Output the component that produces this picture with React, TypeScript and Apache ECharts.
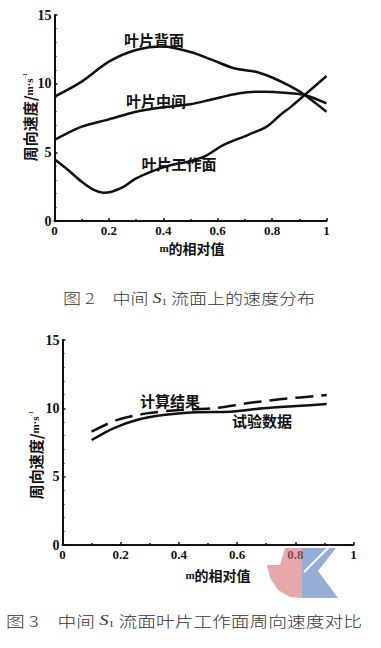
import React, { useEffect, useRef } from "react";
import * as echarts from "echarts";

// Figure 2 – velocity distribution on middle S1 stream surface
const backX = [0, 0.1, 0.2, 0.3, 0.4, 0.5, 0.58, 0.66, 0.74, 0.8, 0.87, 0.92, 1];
const backY = [9.05, 10.15, 11.6, 12.45, 12.7, 12.3, 11.73, 11.12, 10.87, 10.45, 9.78, 9.18, 7.96];
const midX = [0, 0.1, 0.2, 0.3, 0.4, 0.5, 0.57, 0.68, 0.77, 0.87, 0.92, 1];
const midY = [5.9, 6.87, 7.4, 7.96, 8.28, 8.5, 8.81, 9.3, 9.42, 9.3, 9.18, 8.57];
const workX = [0, 0.05, 0.1, 0.145, 0.18, 0.21, 0.255, 0.3, 0.37, 0.43, 0.49, 0.55, 0.62, 0.71, 0.78, 0.83, 0.87, 0.92, 1];
const workY = [4.49, 3.71, 2.86, 2.26, 2.06, 2.13, 2.5, 3.1, 3.71, 4.08, 4.32, 4.68, 5.53, 6.26, 6.87, 7.72, 8.33, 9.18, 10.56];

// Figure 3 – comparison on pressure side
const calcX = [0.1, 0.186, 0.289, 0.404, 0.518, 0.633, 0.747, 0.908];
const calcY = [8.29, 9.14, 9.63, 9.88, 10.0, 10.37, 10.66, 10.97];
const testX = [0.1, 0.175, 0.255, 0.346, 0.46, 0.576, 0.69, 0.805, 0.908];
const testY = [7.68, 8.54, 9.15, 9.51, 9.71, 9.75, 10.0, 10.17, 10.31];

const xTicks = [0, 0.2, 0.4, 0.6, 0.8, 1];
const yTicks = [0, 5, 10, 15];

const labels1 = ["叶片背面", "叶片中间", "叶片工作面"];
const labels2 = ["计算结果", "试验数据"];
const yTitle = "周向速度/";
const xTitle = "的相对值";
const caption1 = ["图 2　中间 ", "S", "1", " 流面上的速度分布"];
const caption2 = ["图 3　中间 ", "S", "1", " 流面叶片工作面周向速度对比"];

const zip = (xs: number[], ys: number[]) => xs.map((x, i) => [x, ys[i]]);

const tickFont = {
  fontFamily: "Liberation Serif",
  fontWeight: "bold" as const,
  fontSize: 13,
  color: "#111",
};
const cjk = "Noto Sans CJK SC";

function xAxisCfg(gridIndex: number) {
  return {
    type: "value" as const,
    gridIndex,
    min: 0,
    max: 1,
    interval: 0.2,
    axisLine: { show: true, onZero: false, lineStyle: { color: "#111", width: 2 } },
    axisTick: { show: true, inside: true, length: 3, lineStyle: { color: "#111", width: 1.5 } },
    minorTick: { show: true, splitNumber: 2, length: 2, lineStyle: { color: "#111", width: 1.5 } },
    splitLine: { show: false },
    axisLabel: {
      ...tickFont,
      margin: 3,
      formatter: (v: number) => {
        const t = xTicks.find((k) => Math.abs(k - v) < 1e-6);
        if (t === undefined) return "";
        return t === 0 ? "0" : t === 1 ? "1" : t.toFixed(1);
      },
    },
  };
}

function yAxisCfg(gridIndex: number) {
  return {
    type: "value" as const,
    gridIndex,
    min: 0,
    max: 15,
    interval: 5,
    axisLine: { show: true, onZero: false, lineStyle: { color: "#111", width: 2 } },
    axisTick: { show: true, inside: true, length: 3, lineStyle: { color: "#111", width: 1.5 } },
    minorTick: { show: true, splitNumber: 5, length: 2, lineStyle: { color: "#111", width: 1 } },
    splitLine: { show: false },
    axisLabel: {
      ...tickFont,
      fontSize: 14,
      margin: 3,
      formatter: (v: number) => (yTicks.includes(v) ? String(v) : ""),
    },
  };
}

function lineSeries(name: string, xi: number, data: number[][], dashed = false) {
  return {
    name,
    type: "line" as const,
    xAxisIndex: xi,
    yAxisIndex: xi,
    data,
    smooth: 0.3,
    showSymbol: false,
    symbol: "none",
    lineStyle: { color: "#111", width: 2.5, type: dashed ? [18, 8] : "solid" },
  };
}

const labelStyle = {
  fontFamily: cjk,
  fontWeight: "bold" as const,
  fontSize: 15,
  fill: "#111",
  align: "center" as const,
  verticalAlign: "middle" as const,
};

function yTitleText(x: number, y: number) {
  return {
    type: "text" as const,
    x,
    y,
    rotation: Math.PI / 2,
    style: {
      text: yTitle + "{m|m·s}{sup|-1}",
      fontFamily: cjk,
      fontWeight: "bold" as const,
      fontSize: 15,
      fill: "#111",
      align: "center" as const,
      verticalAlign: "middle" as const,
      rich: {
        m: { fontFamily: "Liberation Serif", fontSize: 11, fontWeight: "bold", fill: "#111" },
        sup: { fontFamily: "Liberation Serif", fontSize: 7, fill: "#111", padding: [0, 0, 9, 0] },
      },
    },
  };
}

function xTitleText(x: number, y: number) {
  return {
    type: "text" as const,
    x,
    y,
    style: {
      text: "{m|m}" + xTitle,
      fontFamily: cjk,
      fontWeight: "bold" as const,
      fontSize: 14,
      fill: "#111",
      align: "center" as const,
      verticalAlign: "middle" as const,
      rich: {
        m: { fontFamily: "Liberation Serif", fontSize: 11, fontWeight: "bold", fill: "#111" },
      },
    },
  };
}

function captionText(parts: string[], x: number, y: number, scaleX: number) {
  return {
    type: "text" as const,
    x,
    y,
    scaleX,
    style: {
      text: parts[0] + "{i|" + parts[1] + "}{sub|" + parts[2] + "}" + parts[3],
      fontFamily: cjk,
      fontWeight: 300,
      fontSize: 15,
      fill: "#333",
      align: "center" as const,
      verticalAlign: "middle" as const,
      rich: {
        i: { fontFamily: "Liberation Serif", fontStyle: "italic", fontSize: 15, fill: "#333" },
        sub: { fontFamily: "Liberation Serif", fontSize: 9, fill: "#333", padding: [8, 0, 0, 0] },
      },
    },
  };
}

export default function App() {
  const ref = useRef<HTMLDivElement>(null);
  useEffect(() => {
    if (!ref.current) return;
    const chart = echarts.init(ref.current, undefined, { renderer: "svg" });
    chart.setOption({
      animation: false,
      backgroundColor: "#fff",
      grid: [
        { left: 54.5, top: 15, width: 272, height: 206 },
        { left: 62.5, top: 340, width: 291, height: 205 },
      ],
      xAxis: [xAxisCfg(0), xAxisCfg(1)],
      yAxis: [yAxisCfg(0), yAxisCfg(1)],
      series: [
        lineSeries(labels1[0], 0, zip(backX, backY)),
        lineSeries(labels1[1], 0, zip(midX, midY)),
        lineSeries(labels1[2], 0, zip(workX, workY)),
        lineSeries(labels2[0], 1, zip(calcX, calcY), true),
        lineSeries(labels2[1], 1, zip(testX, testY)),
      ],
      graphic: [
        // watermark (faint logo)
        {
          type: "polygon",
          shape: { points: [[285, 548], [302, 548], [302, 598], [290, 597], [278, 590], [270, 578], [267, 565], [280, 565]] },
          style: { fill: "rgba(214,110,110,0.6)" },
          z: 100,
        },
        {
          type: "polygon",
          shape: { points: [[302, 548], [336, 548], [318, 571], [338, 598], [302, 598]] },
          style: { fill: "rgba(90,130,190,0.65)" },
          z: 100,
        },
        {
          type: "line",
          shape: { x1: 304, y1: 572, x2: 330, y2: 546 },
          style: { stroke: "#fff", lineWidth: 2 },
          z: 101,
        },
        { type: "text", x: 154, y: 39, style: { ...labelStyle, text: labels1[0] } },
        { type: "text", x: 156, y: 100, style: { ...labelStyle, text: labels1[1] } },
        { type: "text", x: 179, y: 163, style: { ...labelStyle, text: labels1[2] } },
        { type: "text", x: 170, y: 400, style: { ...labelStyle, text: labels2[0] } },
        { type: "text", x: 262, y: 420, style: { ...labelStyle, text: labels2[1] } },
        yTitleText(29, 117),
        yTitleText(35, 455),
        xTitleText(192, 248),
        xTitleText(218, 575),
        captionText(caption1, 189, 298, 1.2),
        captionText(caption2, 184, 620, 1.25),
      ],
    });
    return () => chart.dispose();
  }, []);
  return (
    <div
      ref={ref}
      style={{ position: "fixed", left: 0, top: 0, width: 381, height: 648, background: "#fff" }}
    />
  );
}
